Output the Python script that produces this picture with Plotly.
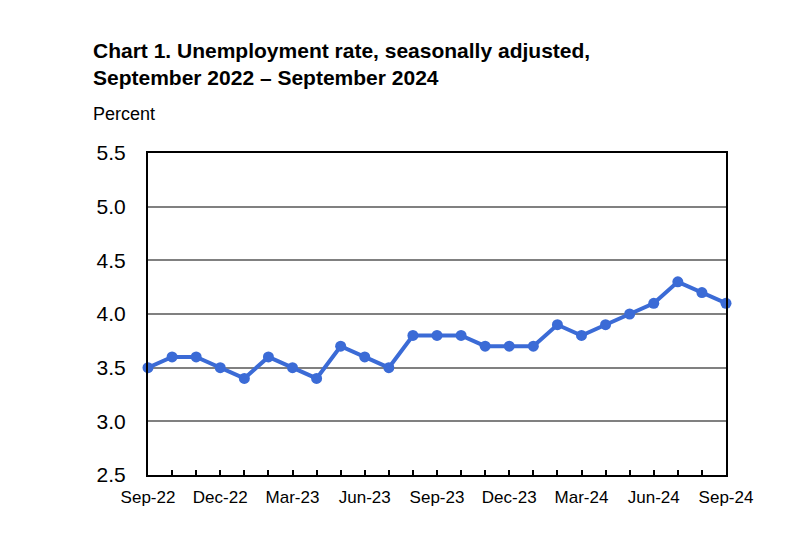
import plotly.graph_objects as go

months = ["Sep-22", "Oct-22", "Nov-22", "Dec-22", "Jan-23", "Feb-23", "Mar-23", "Apr-23",
          "May-23", "Jun-23", "Jul-23", "Aug-23", "Sep-23", "Oct-23", "Nov-23", "Dec-23",
          "Jan-24", "Feb-24", "Mar-24", "Apr-24", "May-24", "Jun-24", "Jul-24", "Aug-24", "Sep-24"]
rate = [3.5, 3.6, 3.6, 3.5, 3.4, 3.6, 3.5, 3.4, 3.7, 3.6, 3.5, 3.8, 3.8, 3.8, 3.7, 3.7,
        3.7, 3.9, 3.8, 3.9, 4.0, 4.1, 4.3, 4.2, 4.1]
tick_labels = [m if i % 3 == 0 else "" for i, m in enumerate(months)]
y_ticks = [2.5, 3.0, 3.5, 4.0, 4.5, 5.0, 5.5]

W, H = 800, 553
OFF = 8  # page body margin
L, R, T, B = 148 - OFF, 74 + OFF, 153 - OFF, 78 + OFF
ph = H - T - B

def py(Y):
    return (H - B - (Y - OFF)) / ph

def px(X):
    return ((X - OFF) - L) / (W - L - R)

fig = go.Figure()
fig.add_trace(go.Scatter(
    x=months, y=rate, mode="lines+markers",
    line=dict(color="#3b6bd6", width=4),
    marker=dict(color="#3b6bd6", size=11),
    cliponaxis=False, showlegend=False,
))

font = "Liberation Sans, Arial, sans-serif"
fig.update_layout(
    width=W, height=H,
    margin=dict(l=L, r=R, t=T, b=B),
    paper_bgcolor="white", plot_bgcolor="white",
    font=dict(family=font, color="#000000"),
    xaxis=dict(
        type="category", range=[0, 24],
        tickmode="array", tickvals=months, ticktext=tick_labels,
        ticks="inside", ticklen=5, tickwidth=1.5, tickcolor="#000000",
        showgrid=False, zeroline=False,
        showline=True, linecolor="#000000", linewidth=2, mirror=True,
        tickfont=dict(size=17, color="#000000"),
        ticklabelstandoff=6,
    ),
    yaxis=dict(
        range=[2.5, 5.5], tickmode="array", tickvals=y_ticks,
        ticktext=[f"{v:.1f}" for v in y_ticks],
        ticks="", showgrid=True, gridcolor="#808080", gridwidth=1.5,
        zeroline=False,
        showline=True, linecolor="#000000", linewidth=2, mirror=True,
        tickfont=dict(size=21, color="#000000"),
        ticklabelstandoff=16,
    ),
    annotations=[
        dict(text="<b>Chart 1. Unemployment rate, seasonally adjusted,</b>",
             xref="paper", yref="paper", x=px(91), y=py(51),
             xanchor="left", yanchor="middle", showarrow=False,
             font=dict(size=21, family=font, color="#000000")),
        dict(text="<b>September 2022 – September 2024</b>",
             xref="paper", yref="paper", x=px(91), y=py(77),
             xanchor="left", yanchor="middle", showarrow=False,
             font=dict(size=21, family=font, color="#000000")),
        dict(text="Percent",
             xref="paper", yref="paper", x=px(91), y=py(114),
             xanchor="left", yanchor="middle", showarrow=False,
             font=dict(size=18, family=font, color="#000000")),
    ],
)

fig.write_html("out.html")
